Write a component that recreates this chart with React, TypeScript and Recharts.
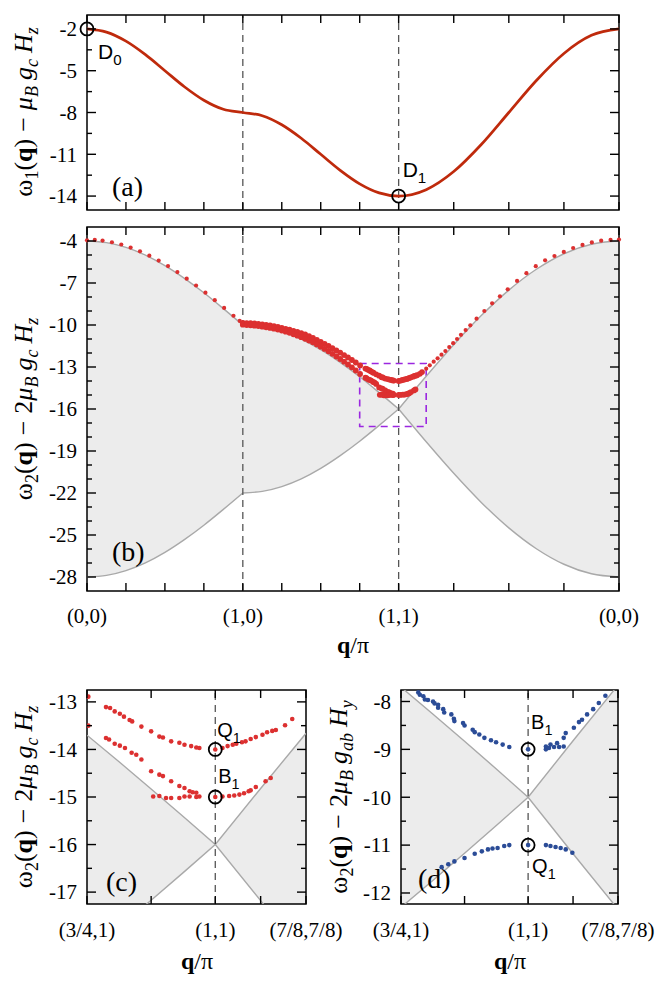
import React from "react";
import {
  ComposedChart,
  Line,
  Area,
  Scatter,
  XAxis,
  YAxis,
  ReferenceLine,
  ReferenceArea,
} from "recharts";

// ---- data ----
// position along the path (0,0) -> (1,0) -> (1,1) -> (0,0), in units of pi
const pathX = [
  0, 0.125, 0.25, 0.375, 0.5, 0.625, 0.75, 0.875, 1, 1.125, 1.25, 1.375, 1.5, 1.625, 1.75,
  1.875, 2, 2.1768, 2.3536, 2.5303, 2.7071, 2.8839, 3.0607, 3.2374, 3.4142,
];
const omega1 = [
  -2, -2.23, -2.88, -3.85, -5, -6.15, -7.12, -7.77, -8, -8.23, -8.88, -9.85, -11, -12.15, -13.12,
  -13.77, -14, -13.54, -12.24, -10.3, -8, -5.7, -3.76, -2.46, -2,
];
// two-magnon continuum edges
const edgeA = [
  -4, -4.12, -4.46, -5.01, -5.76, -6.67, -7.7, -8.83, -10, -10.12, -10.46, -11.01, -11.76, -12.67,
  -13.7, -14.83, -16, -18.34, -20.59, -22.67, -24.49, -25.98, -27.09, -27.77, -28,
];
const edgeB = [
  -28, -27.88, -27.54, -26.99, -26.24, -25.33, -24.3, -23.17, -22, -21.88, -21.54, -20.99, -20.24,
  -19.33, -18.3, -17.17, -16, -13.66, -11.41, -9.33, -7.51, -6.02, -4.91, -4.23, -4,
];
const pathTicks = [0, 0.25, 0.5, 0.75, 1, 1.25, 1.5, 1.75, 2, 2.3536, 2.7071, 3.0607, 3.4142];
const pathTickLabels = ["(0,0)", "", "", "", "(1,0)", "", "", "", "(1,1)", "", "", "", "(0,0)"];

// bound states (panel b)
const redEdgeX = [0, 0.05, 0.1, 0.16, 0.22, 0.28, 0.34, 0.4, 0.46, 0.52, 0.58, 0.64, 0.7, 0.76, 0.82, 0.88, 0.94, 0.98];
const redEdgeY = [-3.95, -3.92, -3.97, -4.09, -4.25, -4.47, -4.74, -5.05, -5.4, -5.79, -6.22, -6.69, -7.18, -7.69, -8.23, -8.78, -9.34, -9.71];
const redBandX = [
  1, 1.025, 1.05, 1.075, 1.1, 1.125, 1.15, 1.175, 1.2, 1.225, 1.25, 1.275, 1.3, 1.325, 1.35,
  1.375, 1.4, 1.425, 1.45, 1.475, 1.5, 1.525, 1.55, 1.575, 1.6, 1.625, 1.65, 1.675, 1.7, 1.725,
  1, 1.025, 1.05, 1.075, 1.1, 1.125, 1.15, 1.175, 1.2, 1.225, 1.25, 1.275, 1.3, 1.325, 1.35,
  1.375, 1.4, 1.425, 1.45, 1.475, 1.5, 1.525, 1.55, 1.575, 1.6, 1.625, 1.65, 1.675, 1.7, 1.725,
];
const redBandY = [
  -9.85, -9.86, -9.87, -9.89, -9.92, -9.95, -9.99, -10.03, -10.08, -10.14, -10.2, -10.27, -10.34, -10.42, -10.5,
  -10.59, -10.68, -10.8, -10.92, -11.06, -11.2, -11.35, -11.5, -11.66, -11.82, -11.98, -12.15, -12.32, -12.5, -12.68,
  -9.98, -10.0, -10.02, -10.05, -10.08, -10.12, -10.16, -10.21, -10.26, -10.33, -10.4, -10.48, -10.56, -10.66, -10.76,
  -10.87, -10.99, -11.11, -11.24, -11.39, -11.55, -11.71, -11.88, -12.06, -12.25, -12.43, -12.62, -12.82, -13.02, -13.25,
];
const redDiagX = [
  2.177, 2.2, 2.225, 2.25, 2.275, 2.3, 2.325, 2.35, 2.375, 2.4, 2.43, 2.46, 2.5, 2.55, 2.6, 2.65,
  2.7, 2.76, 2.82, 2.88, 2.94, 3.0, 3.06, 3.12, 3.18, 3.24, 3.3, 3.36, 3.414,
];
const redDiagY = [
  -13.12, -12.88, -12.62, -12.38, -12.12, -11.86, -11.58, -11.3, -11.0, -10.7, -10.36, -10.02, -9.55,
  -9.0, -8.45, -7.95, -7.45, -6.85, -6.3, -5.8, -5.38, -5.07, -4.78, -4.5, -4.28, -4.1, -3.98, -3.92, -3.9,
];

// zoom near (1,1): panels (c) and (d)
const zoomX = [1.75, 1.8125, 1.875, 1.9375, 2, 2.0884, 2.1768];
const zoomEdgeAc = [-13.7, -14.26, -14.83, -15.41, -16, -17.18, -18.34];
const zoomEdgeBc = [-18.3, -17.74, -17.17, -16.59, -16, -14.82, -13.66];
const zoomEdgeAd = [-7.7, -8.26, -8.83, -9.41, -10, -11.18, -12.34];
const zoomEdgeBd = [-12.3, -11.74, -11.17, -10.59, -10, -8.82, -7.66];
const zoomTicks = [1.75, 1.875, 2, 2.0884, 2.1768];
const zoomTickLabels = ["(3/4,1)", "", "(1,1)", "", "(7/8,7/8)"];

const redZoomX = [
  1.7526, 1.7526,
  1.787, 1.795, 1.804, 1.814, 1.822, 1.833, 1.838, 1.856, 1.875, 1.891, 1.898, 1.914, 1.93, 1.94, 1.953, 1.963, 1.969, 2.0,
  2.014, 2.024, 2.034, 2.041, 2.052, 2.059, 2.069, 2.079, 2.092, 2.101, 2.111, 2.118, 2.136, 2.15,
  1.787, 1.793, 1.804, 1.814, 1.824, 1.837, 1.846, 1.856, 1.875, 1.891, 1.898, 1.914, 1.93, 1.94, 1.95, 1.956, 1.963,
  1.879, 1.891, 1.904, 1.914, 1.93, 1.94, 1.95, 1.963, 1.969, 2.0,
  2.014, 2.027, 2.037, 2.047, 2.056, 2.065, 2.069, 2.079, 2.098, 2.108,
];
const redZoomY = [
  -12.89, -13.5,
  -13.11, -13.13, -13.2, -13.25, -13.31, -13.38, -13.41, -13.52, -13.62, -13.73, -13.75, -13.83, -13.86, -13.9, -13.93, -13.96, -13.97, -14.0,
  -13.97, -13.93, -13.9, -13.88, -13.85, -13.83, -13.78, -13.74, -13.69, -13.64, -13.61, -13.59, -13.49, -13.36,
  -13.76, -13.79, -13.88, -13.92, -13.97, -14.07, -14.11, -14.21, -14.46, -14.53, -14.56, -14.67, -14.77, -14.81, -14.88, -14.9, -14.91,
  -14.99, -14.98, -15.02, -15.02, -15.02, -14.99, -14.99, -15.0, -14.99, -15.0,
  -14.99, -14.98, -14.97, -14.95, -14.92, -14.88, -14.86, -14.79, -14.67, -14.6,
];
const blueX = [
  1.784, 1.787, 1.794, 1.797, 1.803, 1.813, 1.816, 1.823, 1.823, 1.833, 1.835, 1.849, 1.854, 1.855, 1.872, 1.875,
  1.891, 1.895, 1.904, 1.914, 1.927, 1.937, 1.95, 1.963, 2.0,
  2.035, 2.035, 2.041, 2.044, 2.051, 2.057, 2.061, 2.07, 2.07, 2.074, 2.09, 2.1, 2.106, 2.116, 2.128, 2.139, 2.152,
  1.83, 1.843, 1.855, 1.875, 1.895, 1.909, 1.921, 1.93, 1.94, 1.953, 1.963, 2.0,
  2.035, 2.044, 2.054, 2.064, 2.074, 2.087,
];
const blueY = [
  -7.81, -7.86, -7.89, -7.96, -7.97, -8.0, -8.04, -8.07, -8.13, -8.16, -8.23, -8.27, -8.36, -8.41, -8.45, -8.5,
  -8.59, -8.64, -8.69, -8.76, -8.81, -8.85, -8.9, -8.95, -9.0,
  -9.0, -8.94, -8.97, -8.9, -8.95, -8.87, -8.95, -8.94, -8.76, -8.66, -8.55, -8.43, -8.38, -8.27, -8.16, -8.03, -7.88,
  -11.46, -11.4, -11.34, -11.27, -11.18, -11.13, -11.09, -11.07, -11.06, -11.02, -11.0, -11.0,
  -11.0, -11.02, -11.04, -11.06, -11.09, -11.16,
];

// marked points
const markA = { x: [0, 2], y: [-2, -14], name: ["D0", "D1"] };
const markC = { x: [2, 2], y: [-14, -15], name: ["Q1", "B1"] };
const markD = { x: [2, 2], y: [-9, -11], name: ["B1", "Q1"] };

const aTicks = [-14, -12.5, -11, -9.5, -8, -6.5, -5, -3.5, -2];
const aTickLabels = ["-14", "", "-11", "", "-8", "", "-5", "", "-2"];
const bTicks = [-28, -27, -26, -25, -24, -23, -22, -21, -20, -19, -18, -17, -16, -15, -14, -13, -12, -11, -10, -9, -8, -7, -6, -5, -4];
const bTickLabels = [
  "-28", "", "", "-25", "", "", "-22", "", "", "-19", "", "", "-16", "", "", "-13", "", "", "-10", "", "", "-7", "", "", "-4",
];
const cTicks = [-17, -16.5, -16, -15.5, -15, -14.5, -14, -13.5, -13];
const cTickLabels = ["-17", "", "-16", "", "-15", "", "-14", "", "-13"];
const dTicks = [-12, -11.5, -11, -10.5, -10, -9.5, -9, -8.5, -8];
const dTickLabels = ["-12", "", "-11", "", "-10", "", "-9", "", "-8"];

// ---- styling ----
const SERIF = "'Liberation Serif', 'Times New Roman', serif";
const SANS = "'Liberation Sans', Arial, sans-serif";
const RED = "#dc3030";
const BLUE = "#2b4c97";
const CURVE = "#bf2a0c";
const GRAYFILL = "#ececec";
const GRAYLINE = "#a9a9a9";
const DASH = "#555";
const PURPLE = "#9b27e0";
const XMAX = 3.4142;
const SEGS = [[0, 9], [8, 17], [16, 25]];

type Box = { left: number; right: number; top: number; bottom: number };
const boxA: Box = { left: 87, right: 619, top: 15, bottom: 210 };
const boxB: Box = { left: 87, right: 619, top: 227, bottom: 591 };
const boxC: Box = { left: 87, right: 306, top: 690, bottom: 904 };
const boxD: Box = { left: 401, right: 618, top: 690, bottom: 904 };

const pts = (xs: number[], ys: number[]) => xs.map((x, i) => ({ x, y: ys[i] }));
const bandRows = (xs: number[], a: number[], b: number[]) =>
  xs.map((x, i) => ({ x, range: [Math.min(a[i], b[i]), Math.max(a[i], b[i])] }));

const labelOffsets: Record<string, Record<string, [number, number]>> = {
  a: { D0: [11, 30], D1: [4, -19] },
  c: { Q1: [2, -12], B1: [3, -14] },
  d: { B1: [3, -20], Q1: [4, 28] },
};

const findIdx = (ticks: number[], v: number) => ticks.findIndex((t) => Math.abs(t - v) < 1e-6);

function xTick(box: Box, ticks: number[], labels: string[], labelY: number) {
  return (p: any) => {
    const i = findIdx(ticks, p.payload.value);
    const lbl = i >= 0 ? labels[i] : "";
    return (
      <g>
        <line x1={p.x} x2={p.x} y1={box.bottom} y2={box.bottom - 8} stroke="#000" strokeWidth={1.4} />
        <line x1={p.x} x2={p.x} y1={box.top} y2={box.top + 8} stroke="#000" strokeWidth={1.4} />
        {lbl ? (
          <text x={p.x} y={labelY} textAnchor="middle" style={{ fontFamily: SERIF, fontSize: 21 }} fill="#000">
            {lbl}
          </text>
        ) : null}
      </g>
    );
  };
}

function yTick(box: Box, ticks: number[], labels: string[]) {
  return (p: any) => {
    const i = findIdx(ticks, p.payload.value);
    const lbl = i >= 0 ? labels[i] : "";
    const len = lbl ? 9 : 5;
    return (
      <g>
        <line x1={box.left} x2={box.left + len} y1={p.y} y2={p.y} stroke="#000" strokeWidth={1.4} />
        <line x1={box.right} x2={box.right - len} y1={p.y} y2={p.y} stroke="#000" strokeWidth={1.4} />
        {lbl ? (
          <text x={box.left - 10} y={p.y} dy="0.35em" textAnchor="end" style={{ fontFamily: SERIF, fontSize: 21 }} fill="#000">
            {lbl}
          </text>
        ) : null}
      </g>
    );
  };
}

function markerShape(panel: string, fontSize: number) {
  return (p: any) => {
    const name: string = p.payload.name;
    const [dx, dy] = labelOffsets[panel][name];
    return (
      <g>
        <circle cx={p.cx} cy={p.cy} r={6.5} fill="none" stroke="#000" strokeWidth={1.8} />
        <text x={p.cx + dx} y={p.cy + dy} style={{ fontFamily: SANS, fontSize }} fill="#000">
          {name[0]}
          <tspan style={{ fontSize: fontSize * 0.72 }} dy={6}>
            {name.slice(1)}
          </tspan>
        </text>
      </g>
    );
  };
}

const dot = (r: number, color: string) => (p: any) => <circle cx={p.cx} cy={p.cy} r={r} fill={color} />;

function margins(box: Box, yW: number, xH: number) {
  return { top: box.top, left: box.left - yW, right: 664 - box.right, bottom: 999 - box.bottom - xH };
}

function YTitle({ x, y, n, coef, gs, hs }: { x: number; y: number; n: string; coef: string; gs: string; hs: string }) {
  const sub = { fontSize: 18 };
  const it = { fontStyle: "italic" as const };
  return (
    <text transform={`translate(${x},${y}) rotate(-90)`} textAnchor="middle" style={{ fontFamily: SERIF, fontSize: 26 }} fill="#000">
      <tspan>ω</tspan>
      <tspan style={sub} dy={6}>{n}</tspan>
      <tspan dy={-6}>(</tspan>
      <tspan style={{ fontWeight: "bold" }}>q</tspan>
      <tspan>)</tspan>
      <tspan dx={7}>−</tspan>
      {coef ? <tspan dx={7}>{coef}</tspan> : null}
      <tspan style={it} dx={coef ? 0 : 7}>μ</tspan>
      <tspan style={{ ...it, ...sub }} dy={6}>B</tspan>
      <tspan style={it} dy={-6} dx={6}>g</tspan>
      <tspan style={{ ...it, ...sub }} dy={6}>{gs}</tspan>
      <tspan style={it} dy={-6} dx={6}>H</tspan>
      <tspan style={{ ...it, ...sub }} dy={6}>{hs}</tspan>
    </text>
  );
}

function QTitle({ x, y }: { x: number; y: number }) {
  return (
    <text x={x} y={y} textAnchor="middle" style={{ fontFamily: SERIF, fontSize: 24 }} fill="#000">
      <tspan style={{ fontWeight: "bold" }}>q</tspan>/π
    </text>
  );
}

const layer: React.CSSProperties = { position: "absolute", left: 0, top: 0 };

export default function App() {
  const omegaData = pts(pathX, omega1);
  const band = bandRows(pathX, edgeA, edgeB);
  const lineA = pts(pathX, edgeA);
  const lineB = pts(pathX, edgeB);
  const redThin = [...pts(redEdgeX, redEdgeY), ...pts(redDiagX, redDiagY)];
  const redThick = [...pts(redBandX, redBandY), ...pts(redZoomX, redZoomY)];
  const redC = pts(redZoomX, redZoomY);
  const blueD = pts(blueX, blueY);
  const mk = (m: { x: number[]; y: number[]; name: string[] }) =>
    m.x.map((x, i) => ({ x, y: m.y[i], name: m.name[i] }));

  return (
    <div style={{ position: "absolute", left: 0, top: 0, width: 664, height: 999, background: "#fff", overflow: "hidden" }}>
      {/* panel (a) */}
      <div style={layer}>
        <ComposedChart width={664} height={999} margin={margins(boxA, 50, 20)}>
          <ReferenceLine x={1} stroke={DASH} strokeDasharray="7 5" strokeWidth={1.3} />
          <ReferenceLine x={2} stroke={DASH} strokeDasharray="7 5" strokeWidth={1.3} />
          <Line data={omegaData} dataKey="y" type="monotone" stroke={CURVE} strokeWidth={2.7} dot={false} isAnimationActive={false} />
          <Scatter data={mk(markA)} dataKey="y" shape={markerShape("a", 21)} isAnimationActive={false} />
          <XAxis type="number" dataKey="x" domain={[0, XMAX]} ticks={pathTicks} interval={0} height={20}
            tick={xTick(boxA, pathTicks, pathTicks.map(() => ""), 0)} tickLine={false} axisLine={false} />
          <YAxis type="number" dataKey="y" domain={[-15, -1]} ticks={aTicks} interval={0} width={50}
            tick={yTick(boxA, aTicks, aTickLabels)} tickLine={false} axisLine={false} />
          <ReferenceArea x1={0} x2={XMAX} y1={-15} y2={-1} fill="none" stroke="#000" strokeWidth={1.5} ifOverflow="visible" />
        </ComposedChart>
      </div>

      {/* panel (b) */}
      <div style={layer}>
        <ComposedChart width={664} height={999} margin={margins(boxB, 50, 40)}>
          {SEGS.map(([s, e], i) => (
            <Area key={"ar" + i} data={band.slice(s, e)} dataKey="range" type="monotone" stroke="none" fill={GRAYFILL} fillOpacity={1} isAnimationActive={false} />
          ))}
          {SEGS.map(([s, e], i) => (
            <Line key={"la" + i} data={lineA.slice(s, e)} dataKey="y" type="monotone" stroke={GRAYLINE} strokeWidth={1.4} dot={false} isAnimationActive={false} />
          ))}
          {SEGS.map(([s, e], i) => (
            <Line key={"lb" + i} data={lineB.slice(s, e)} dataKey="y" type="monotone" stroke={GRAYLINE} strokeWidth={1.4} dot={false} isAnimationActive={false} />
          ))}
          <ReferenceLine x={1} stroke={DASH} strokeDasharray="7 5" strokeWidth={1.3} />
          <ReferenceLine x={2} stroke={DASH} strokeDasharray="7 5" strokeWidth={1.3} />
          <ReferenceArea x1={1.75} x2={2.1768} y1={-17.25} y2={-12.75} fill="none" stroke={PURPLE} strokeWidth={1.6} strokeDasharray="7 5" />
          <Scatter data={redThin} dataKey="y" shape={dot(2.1, RED)} isAnimationActive={false} />
          <Scatter data={redThick} dataKey="y" shape={dot(2.9, RED)} isAnimationActive={false} />
          <XAxis type="number" dataKey="x" domain={[0, XMAX]} ticks={pathTicks} interval={0} height={40}
            tick={xTick(boxB, pathTicks, pathTickLabels, 623)} tickLine={false} axisLine={false} />
          <YAxis type="number" dataKey="y" domain={[-29, -3]} ticks={bTicks} interval={0} width={50}
            tick={yTick(boxB, bTicks, bTickLabels)} tickLine={false} axisLine={false} />
          <ReferenceArea x1={0} x2={XMAX} y1={-29} y2={-3} fill="none" stroke="#000" strokeWidth={1.5} ifOverflow="visible" />
        </ComposedChart>
      </div>

      {/* panel (c) */}
      <div style={layer}>
        <ComposedChart width={664} height={999} margin={margins(boxC, 50, 40)}>
          <Area data={bandRows(zoomX, zoomEdgeAc, zoomEdgeBc)} dataKey="range" type="linear" stroke="none" fill={GRAYFILL} fillOpacity={1} isAnimationActive={false} />
          <Line data={pts(zoomX, zoomEdgeAc)} dataKey="y" type="linear" stroke={GRAYLINE} strokeWidth={1.4} dot={false} isAnimationActive={false} />
          <Line data={pts(zoomX, zoomEdgeBc)} dataKey="y" type="linear" stroke={GRAYLINE} strokeWidth={1.4} dot={false} isAnimationActive={false} />
          <ReferenceLine x={2} stroke={DASH} strokeDasharray="7 5" strokeWidth={1.3} />
          <Scatter data={redC} dataKey="y" shape={dot(2.3, RED)} isAnimationActive={false} />
          <Scatter data={mk(markC)} dataKey="y" shape={markerShape("c", 20)} isAnimationActive={false} />
          <XAxis type="number" dataKey="x" domain={[1.75, 2.1768]} ticks={zoomTicks} interval={0} height={40} allowDataOverflow
            tick={xTick(boxC, zoomTicks, zoomTickLabels, 937)} tickLine={false} axisLine={false} />
          <YAxis type="number" dataKey="y" domain={[-17.25, -12.75]} ticks={cTicks} interval={0} width={50} allowDataOverflow
            tick={yTick(boxC, cTicks, cTickLabels)} tickLine={false} axisLine={false} />
          <ReferenceArea x1={1.75} x2={2.1768} y1={-17.25} y2={-12.75} fill="none" stroke="#000" strokeWidth={1.5} ifOverflow="visible" />
        </ComposedChart>
      </div>

      {/* panel (d) */}
      <div style={layer}>
        <ComposedChart width={664} height={999} margin={margins(boxD, 50, 40)}>
          <Area data={bandRows(zoomX, zoomEdgeAd, zoomEdgeBd)} dataKey="range" type="linear" stroke="none" fill={GRAYFILL} fillOpacity={1} isAnimationActive={false} />
          <Line data={pts(zoomX, zoomEdgeAd)} dataKey="y" type="linear" stroke={GRAYLINE} strokeWidth={1.4} dot={false} isAnimationActive={false} />
          <Line data={pts(zoomX, zoomEdgeBd)} dataKey="y" type="linear" stroke={GRAYLINE} strokeWidth={1.4} dot={false} isAnimationActive={false} />
          <ReferenceLine x={2} stroke={DASH} strokeDasharray="7 5" strokeWidth={1.3} />
          <Scatter data={blueD} dataKey="y" shape={dot(2.3, BLUE)} isAnimationActive={false} />
          <Scatter data={mk(markD)} dataKey="y" shape={markerShape("d", 20)} isAnimationActive={false} />
          <XAxis type="number" dataKey="x" domain={[1.75, 2.1768]} ticks={zoomTicks} interval={0} height={40} allowDataOverflow
            tick={xTick(boxD, zoomTicks, zoomTickLabels, 937)} tickLine={false} axisLine={false} />
          <YAxis type="number" dataKey="y" domain={[-12.23, -7.76]} ticks={dTicks} interval={0} width={50} allowDataOverflow
            tick={yTick(boxD, dTicks, dTickLabels)} tickLine={false} axisLine={false} />
          <ReferenceArea x1={1.75} x2={2.1768} y1={-12.23} y2={-7.76} fill="none" stroke="#000" strokeWidth={1.5} ifOverflow="visible" />
        </ComposedChart>
      </div>

      {/* titles and panel letters */}
      <svg width={664} height={999} style={{ ...layer, pointerEvents: "none" }}>
        <YTitle x={32} y={112} n="1" coef="" gs="c" hs="z" />
        <YTitle x={32} y={409} n="2" coef="2" gs="c" hs="z" />
        <YTitle x={32} y={797} n="2" coef="2" gs="c" hs="z" />
        <YTitle x={347} y={797} n="2" coef="2" gs="ab" hs="y" />
        <QTitle x={353} y={653} />
        <QTitle x={197} y={969} />
        <QTitle x={510} y={969} />
        <text x={112} y={196} style={{ fontFamily: SERIF, fontSize: 28 }}>(a)</text>
        <text x={112} y={561} style={{ fontFamily: SERIF, fontSize: 28 }}>(b)</text>
        <text x={106} y={891} style={{ fontFamily: SERIF, fontSize: 28 }}>(c)</text>
        <text x={418} y={888} style={{ fontFamily: SERIF, fontSize: 28 }}>(d)</text>
      </svg>
    </div>
  );
}
